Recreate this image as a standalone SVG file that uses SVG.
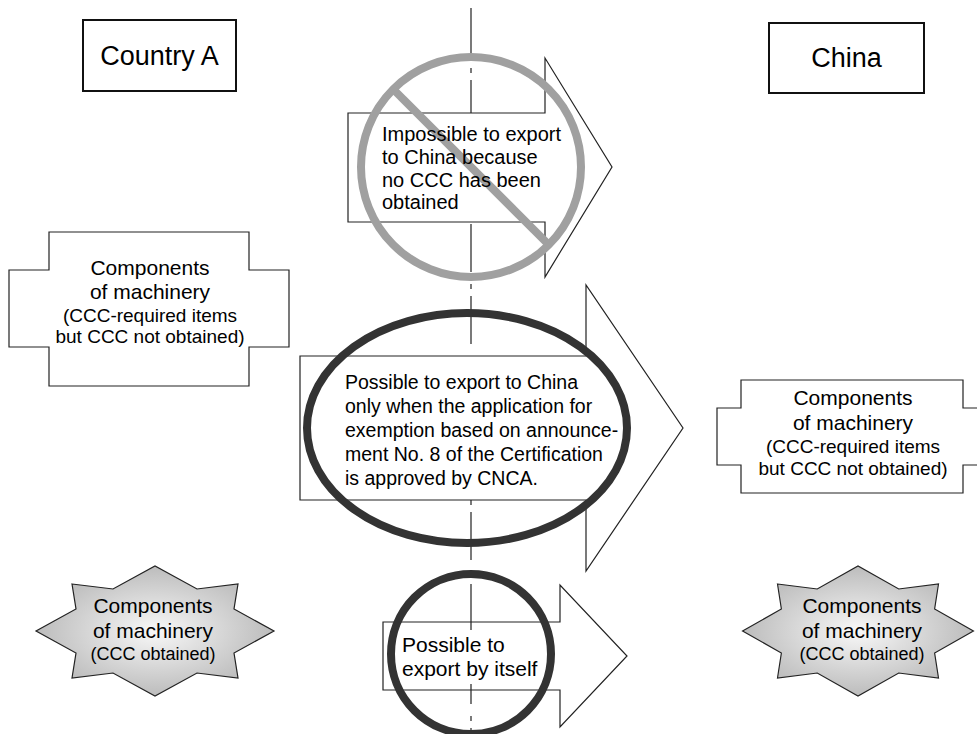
<svg xmlns="http://www.w3.org/2000/svg" width="977" height="734" viewBox="0 0 977 734">
<style>
  text { font-family: "Liberation Sans", Arial, sans-serif; fill: #000; }
  .hdr { font-size: 27px; text-anchor: middle; }
  .t20 { font-size: 20px; }
  .t195 { font-size: 19.5px; }
  .t21 { font-size: 21px; }
  .nt { font-size: 21px; text-anchor: middle; }
  .ns { font-size: 19px; text-anchor: middle; }
  .ss { font-size: 18px; text-anchor: middle; }
  .box { fill: #fff; stroke: #111; stroke-width: 2; }
  .shape { fill: #fff; stroke: #222; stroke-width: 1.2; }
  .arrow { fill: #fff; stroke: #222; stroke-width: 1.2; }
  .star { fill: url(#starGrad); stroke: #222; stroke-width: 1.2; }
  .divider { fill: none; stroke: #222; stroke-width: 1.2; stroke-dasharray: 48 12 5 7; }
</style>
<defs>
  <radialGradient id="starGrad" cx="50%" cy="50%" r="55%">
    <stop offset="0%" stop-color="#f8f8f8"/>
    <stop offset="100%" stop-color="#b6b6b6"/>
  </radialGradient>
  <path id="star8" d="M-83,-47 L-42,-42 L0,-65 L42,-42 L83,-47 L79,-22 L119,0 L79,22 L83,47 L42,42 L0,65 L-42,42 L-83,47 L-79,22 L-119,0 L-79,-22 Z"/>
</defs>
<rect width="977" height="734" fill="#fff"/>

<g id="countryA">
  <rect class="box" x="83" y="20" width="153" height="71"/>
  <text class="hdr" x="159.5" y="65">Country A</text>
</g>
<g id="china">
  <rect class="box" x="769" y="23" width="155" height="70"/>
  <text class="hdr" x="846.5" y="67">China</text>
</g>

<g id="arrow-bottom">
  <path class="arrow" d="M383,622 H560 V585 L627,656 L560,727 V690 H383 Z"/>
</g>

<g id="connectors">
  <line class="divider" x1="471" y1="8" x2="471" y2="734"/>
</g>

<g id="arrow-top">
  <path class="arrow" d="M348,113 H545 V58 L612,167 L545,277 V222 H348 Z"/>
  <circle cx="471" cy="167" r="110" fill="none" stroke="#a0a0a0" stroke-width="8"/>
  <line x1="393" y1="89" x2="549" y2="245" stroke="#a0a0a0" stroke-width="8"/>
  <text class="t20" x="382" y="141">Impossible to export</text>
  <text class="t20" x="382" y="164">to China because</text>
  <text class="t20" x="382" y="187">no CCC has been</text>
  <text class="t20" x="382" y="209">obtained</text>
</g>

<g id="arrow-middle">
  <path class="arrow" d="M300,356 H586 V285 L683,428 L586,571 V500 H300 Z"/>
  <ellipse cx="467" cy="428" rx="160" ry="115" fill="none" stroke="#333" stroke-width="8"/>
  <text class="t195" x="345" y="389">Possible to export to China</text>
  <text class="t195" x="345" y="413">only when the application for</text>
  <text class="t195" x="345" y="437">exemption based on announce-</text>
  <text class="t195" x="345" y="461">ment No. 8 of the Certification</text>
  <text class="t195" x="345" y="485">is approved by CNCA.</text>
</g>

<g id="arrow-bottom-label">
  <rect x="396" y="630" width="150" height="54" fill="#fff"/>
  <circle cx="471" cy="654" r="80" fill="none" stroke="#333" stroke-width="8"/>
  <text class="t21" x="402" y="652">Possible to</text>
  <text class="t21" x="402" y="676">export by itself</text>
</g>

<g id="node-left">
  <path class="shape" d="M49,232 H249 V270 H289 V347 H249 V386 H49 V347 H9 V270 H49 Z"/>
  <text class="nt" x="150" y="275">Components</text>
  <text class="nt" x="150" y="299">of machinery</text>
  <text class="ns" x="150" y="322">(CCC-required items</text>
  <text class="ns" x="150" y="343">but CCC not obtained)</text>
</g>

<g id="node-right">
  <path class="shape" d="M741,380 H963 V408 H990 V465 H963 V493 H741 V465 H717 V408 H741 Z"/>
  <text class="nt" x="853" y="405">Components</text>
  <text class="nt" x="853" y="430">of machinery</text>
  <text class="ns" x="853" y="453">(CCC-required items</text>
  <text class="ns" x="853" y="475">but CCC not obtained)</text>
</g>

<g id="star-left">
  <use href="#star8" class="star" transform="translate(155,631)"/>
  <text class="nt" x="153" y="613">Components</text>
  <text class="nt" x="153" y="638">of machinery</text>
  <text class="ss" x="153" y="660">(CCC obtained)</text>
</g>

<g id="star-right">
  <use href="#star8" class="star" transform="translate(858,631) scale(0.97,1)"/>
  <text class="nt" x="862" y="613">Components</text>
  <text class="nt" x="862" y="638">of machinery</text>
  <text class="ss" x="862" y="660">(CCC obtained)</text>
</g>
</svg>
